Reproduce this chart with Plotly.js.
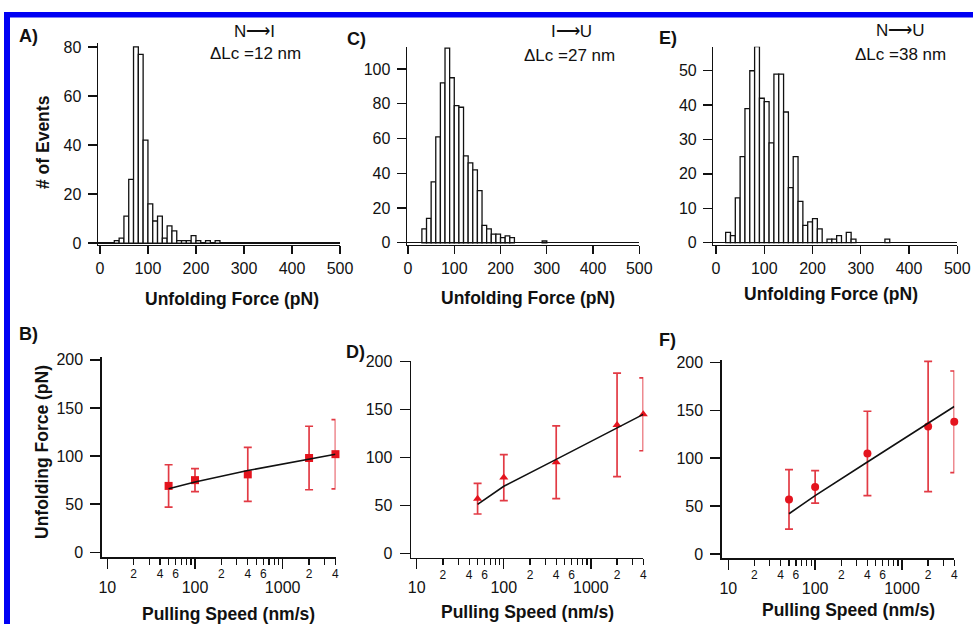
<!DOCTYPE html>
<html><head><meta charset="utf-8">
<script src="https://cdn.plot.ly/plotly-3.0.1.min.js"></script>
<style>html,body{margin:0;padding:0;background:#fff;}#chart{width:973px;height:624px;}</style>
</head><body><div id="chart"></div>
<script>
// ---------- DATA ----------
// Histogram A (N -> I, dLc = 12 nm): left edges of 10 pN bins and counts
const binLeftA = [30,40,50,60,70,80,90,100,110,120,130,140,150,160,170,180,190,200,210,220,230,240];
const countsA  = [1, 2, 11,26,80,77,42,16, 9, 11, 2, 7, 5, 1, 1, 1, 3, 1, 0, 1, 0, 1];
// Histogram C (I -> U, dLc = 27 nm)
const binLeftC = [30,40,50,60,70,80,90,100,110,120,130,140,150,160,170,180,190,200,210,220,290];
const countsC  = [8, 14,35,61,92,112,95,79, 78, 50, 46, 42, 30, 10, 8, 5, 5, 3, 4, 3, 1];
// Histogram E (N -> U, dLc = 38 nm)
const binLeftE = [20,30,40,50,60,70,80,90,100,110,120,130,140,150,160,170,180,190,200,210,220,230,240,250,260,270,280,350];
const countsE  = [3, 2, 13,25,39,50,57,42,41, 29, 49, 49, 38, 16, 25, 12, 5, 6, 7, 4, 0, 1, 1, 2, 0, 3, 1, 1];

// Pulling-speed dependence (nm/s)
const speeds = [50, 100, 400, 2000, 4000];
const forceB = [69, 75, 81, 98, 102];
const errB   = [22, 12, 28, 33, 36];
const fitB   = [66, 73, 85, 97, 102];
const forceD = [57, 79, 95, 134, 145];
const errD   = [16, 24, 38, 54, 38];
const fitD   = [51, 70, 98, 131, 145];
const forceF = [57, 70, 105, 133, 138];
const errF   = [31, 17, 44, 68, 53];
const fitF   = [42, 61, 96, 137, 154];

const histTicks = [0,100,200,300,400,500];
const logMajor = [10, 100, 1000];
const logMajorText = ['10', '100', '1000'];
const logMinor = [20,30,40,50,60,70,80,90,200,300,400,500,600,700,800,900,2000,3000,4000];
const logLabelVals = [20,40,60,200,400,600,2000,4000];
const logLabelText = ['2','4','6','2','4','6','2','4'];

// ---------- LAYOUT HELPERS ----------
const W = 973, H = 624;
const fx = p => p / W;
const fy = p => 1 - p / H;
const FONT = 'Liberation Sans, Arial, Helvetica, sans-serif';
const RED = '#e4141e';
const ERR = '#e23a44';

function baseAxis(extra) {
  return Object.assign({
    showline: true, linecolor: '#111', linewidth: 1.4,
    ticks: 'outside', ticklen: 8, tickwidth: 1.4, tickcolor: '#111',
    showgrid: false, zeroline: false, fixedrange: true,
    tickfont: {family: FONT, size: 16, color: '#111'}
  }, extra);
}

function hist(x, y, xa, ya) {
  return {type: 'bar', x: x, y: y, width: 10, offset: 0, xaxis: xa, yaxis: ya,
    marker: {color: '#fff', line: {color: '#111', width: 1.3}}, hoverinfo: 'skip', showlegend: false};
}
function pts(y, err, sym, xa, ya) {
  return {type: 'scatter', mode: 'markers', x: speeds, y: y, xaxis: xa, yaxis: ya,
    cliponaxis: false,
    marker: {symbol: sym, size: 8, color: RED},
    error_y: {type: 'data', array: err, visible: true, color: ERR, thickness: 1.7, width: 4},
    showlegend: false, hoverinfo: 'skip'};
}
function fit(y, xa, ya) {
  return {type: 'scatter', mode: 'lines', x: speeds, y: y, xaxis: xa, yaxis: ya,
    cliponaxis: false,
    line: {color: '#111', width: 1.6}, showlegend: false, hoverinfo: 'skip'};
}

const data = [
  hist(binLeftA, countsA, 'x', 'y'),
  hist(binLeftC, countsC, 'x2', 'y2'),
  hist(binLeftE, countsE, 'x3', 'y3'),
  pts(forceB, errB, 'square', 'x4', 'y4'),
  pts(forceD, errD, 'triangle-up', 'x5', 'y5'),
  pts(forceF, errF, 'circle', 'x6', 'y6'),
  fit(fitB, 'x7', 'y4'),
  fit(fitD, 'x8', 'y5'),
  fit(fitF, 'x9', 'y6')
];

function histX(dom, range, anchor) {
  return baseAxis({domain: [fx(dom[0]), fx(dom[1])], range: range, anchor: anchor,
    tickmode: 'array', tickvals: histTicks});
}
function histY(dom, range, dtick, anchor) {
  return baseAxis({domain: [fy(dom[1]), fy(dom[0])], range: range, anchor: anchor,
    tickmode: 'linear', tick0: 0, dtick: dtick, ticklen: 9, ticklabelstandoff: 3,
    zeroline: true, zerolinecolor: '#111', zerolinewidth: 1.2});
}
function logX(dom, range, anchor) {
  return baseAxis({type: 'log', domain: [fx(dom[0]), fx(dom[1])], range: range, anchor: anchor,
    tickmode: 'array', tickvals: logMajor, ticktext: logMajorText, ticklen: 10,
    ticklabelstandoff: 5,
    minor: {tickmode: 'array', tickvals: logMinor, ticks: 'outside', ticklen: 6, tickwidth: 1.3, tickcolor: '#111', showgrid: false}});
}
function logLab(over, range, anchor) {
  return {type: 'log', overlaying: over, anchor: anchor, side: 'bottom', range: range,
    showline: false, showgrid: false, zeroline: false, ticks: '', fixedrange: true,
    tickmode: 'array', tickvals: logLabelVals, ticktext: logLabelText,
    ticklabelstandoff: 8,
    tickfont: {family: FONT, size: 12, color: '#111'}};
}
function linY(dom, range, anchor) {
  return baseAxis({domain: [fy(dom[1]), fy(dom[0])], range: range, anchor: anchor,
    tickmode: 'linear', tick0: 0, dtick: 50, ticklen: 10, ticklabelstandoff: 4});
}

const rangeB = [0.936, 3.6025], rangeD = [0.934, 3.6025], rangeF = [0.924, 3.6025];

function ann(text, x, y, opts) {
  return Object.assign({text: text, x: fx(x), y: fy(y), xref: 'paper', yref: 'paper',
    showarrow: false, xanchor: 'center', yanchor: 'middle',
    font: {family: FONT, size: 17, color: '#111'}}, opts || {});
}
const bold = (s) => '<b>' + s + '</b>';
const titleFont = {family: FONT, size: 17.5, color: '#111'};
const labFont = {family: FONT, size: 18, color: '#111'};

const layout = {
  width: W, height: H, margin: {l: 0, r: 0, t: 0, b: 0},
  paper_bgcolor: '#fff', plot_bgcolor: 'rgba(0,0,0,0)',
  showlegend: false, bargap: 0,
  xaxis:  histX([98, 340], [-4, 500], 'y'),
  yaxis:  histY([43, 245], [-0.8, 81.6], 20, 'x'),
  xaxis2: histX([407, 639.3], [-2.2, 500], 'y2'),
  yaxis2: histY([47, 245], [-1.3, 112.7], 20, 'x2'),
  xaxis3: histX([713.3, 957.3], [-5.6, 500], 'y3'),
  yaxis3: histY([46.7, 245], [-0.7, 57], 10, 'x3'),
  xaxis4: logX([101.7, 335.5], rangeB, 'y4'),
  yaxis4: linY([357, 557.3], [-5.2, 203], 'x4'),
  xaxis5: logX([411, 643.3], rangeD, 'y5'),
  yaxis5: linY([361, 557.7], [-4.6, 200.7], 'x5'),
  xaxis6: logX([721.7, 954.3], rangeF, 'y6'),
  yaxis6: linY([360, 558.3], [-4.5, 202.5], 'x6'),
  xaxis7: logLab('x4', rangeB, 'y4'),
  xaxis8: logLab('x5', rangeD, 'y5'),
  xaxis9: logLab('x6', rangeF, 'y6'),
  shapes: [
    {type: 'rect', xref: 'paper', yref: 'paper', x0: fx(4), x1: 1, y0: fy(17.5), y1: fy(12), fillcolor: '#0000f4', line: {width: 0}, layer: 'above'},
    {type: 'rect', xref: 'paper', yref: 'paper', x0: fx(4), x1: fx(10), y0: 0, y1: fy(12), fillcolor: '#0000f4', line: {width: 0}, layer: 'above'}
  ],
  annotations: [
    ann(bold('A)'), 17, 36, {xanchor: 'left', font: labFont}),
    ann(bold('C)'), 345, 39, {xanchor: 'left', font: labFont}),
    ann(bold('E)'), 657, 38, {xanchor: 'left', font: labFont}),
    ann(bold('B)'), 17, 334, {xanchor: 'left', font: labFont}),
    ann(bold('D)'), 344, 352, {xanchor: 'left', font: labFont}),
    ann(bold('F)'), 657, 340, {xanchor: 'left', font: labFont}),
    ann('N\u27F6I', 254, 31),
    ann('\u0394Lc =12 nm', 255, 53),
    ann('I\u27F6U', 571, 31),
    ann('\u0394Lc =27 nm', 569, 55),
    ann('N\u27F6U', 900, 30),
    ann('\u0394Lc =38 nm', 900, 54),
    ann(bold('# of Events'), 43, 142, {textangle: -90, font: titleFont}),
    ann(bold('Unfolding Force (pN)'), 232, 299, {font: titleFont}),
    ann(bold('Unfolding Force (pN)'), 528, 298, {font: titleFont}),
    ann(bold('Unfolding Force (pN)'), 831, 294, {font: titleFont}),
    ann(bold('Unfolding Force (pN)'), 42, 452, {textangle: -90, font: titleFont}),
    ann(bold('Pulling Speed (nm/s)'), 228, 614, {font: titleFont}),
    ann(bold('Pulling Speed (nm/s)'), 527, 612, {font: titleFont}),
    ann(bold('Pulling Speed (nm/s)'), 848, 610, {font: titleFont})
  ]
};

Plotly.newPlot('chart', data, layout, {displayModeBar: false, staticPlot: true});
</script>
</body></html>
